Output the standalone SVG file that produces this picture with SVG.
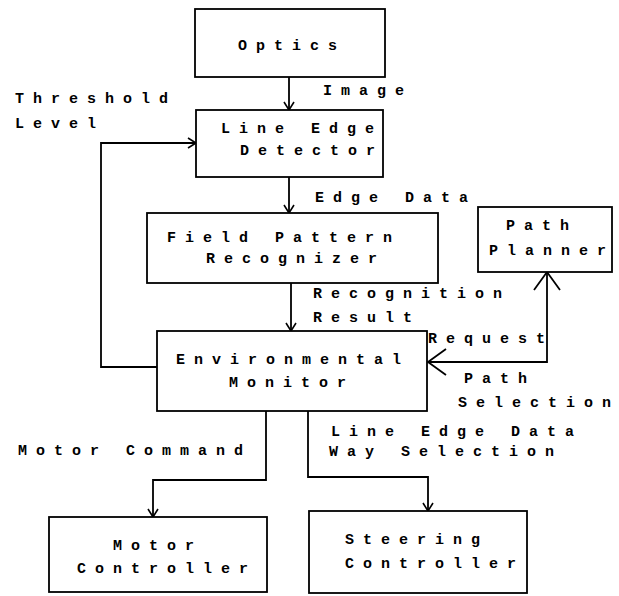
<svg xmlns="http://www.w3.org/2000/svg" width="619" height="596" viewBox="0 0 619 596">
<style>
rect.box{fill:#fff;stroke:#000;stroke-width:1.8}
.c{fill:none;stroke:#000;stroke-width:1.8}
text{font-family:"Liberation Mono","DejaVu Sans Mono",monospace;font-weight:bold;font-size:15px;letter-spacing:9px;fill:#000}
</style>
<defs>
<marker id="ah" markerWidth="12" markerHeight="12" refX="9" refY="6" orient="auto" markerUnits="userSpaceOnUse">
<path d="M1,1 L9,6 L1,11" fill="none" stroke="#000" stroke-width="1.6"/>
</marker>
<marker id="big" markerWidth="24" markerHeight="30" refX="19" refY="15" orient="auto-start-reverse" markerUnits="userSpaceOnUse">
<path d="M1,2 L19,15 L1,28" fill="none" stroke="#000" stroke-width="1.8"/>
</marker>
</defs>
<rect width="619" height="596" fill="#fff"/>
<g id="connectors">
<path class="c" d="M289,77 V110" marker-end="url(#ah)"/>
<path class="c" d="M289,177 V213" marker-end="url(#ah)"/>
<path class="c" d="M291,283 V331" marker-end="url(#ah)"/>
<path class="c" d="M157,367 H101 V143 H196" marker-end="url(#ah)"/>
<path class="c" d="M428,362 H547 V272" marker-start="url(#big)" marker-end="url(#big)"/>
<path class="c" d="M266,411 V480 H153 V517" marker-end="url(#ah)"/>
<path class="c" d="M308,411 V477 H428 V511" marker-end="url(#ah)"/>
<text x="323" y="95">Image</text>
<text x="15" y="103">Threshold</text>
<text x="15" y="128">Level</text>
<text x="315" y="202">Edge Data</text>
<text x="313" y="298">Recognition</text>
<text x="313" y="322">Result</text>
<text x="428" y="343">Request</text>
<text x="464" y="383">Path</text>
<text x="458" y="407">Selection</text>
<text x="331" y="436">Line Edge Data</text>
<text x="329" y="456">Way Selection</text>
<text x="18" y="455">Motor Command</text>
</g>
<g id="optics">
<rect class="box" x="195" y="9" width="190" height="68"/>
<text x="238" y="50">Optics</text>
</g>
<g id="line-edge-detector">
<rect class="box" x="196" y="110" width="187" height="67"/>
<text x="221" y="133">Line Edge</text>
<text x="240" y="155">Detector</text>
</g>
<g id="field-pattern-recognizer">
<rect class="box" x="147" y="213" width="291" height="70"/>
<text x="167" y="242">Field Pattern</text>
<text x="206" y="263">Recognizer</text>
</g>
<g id="path-planner">
<rect class="box" x="478" y="207" width="134" height="65"/>
<text x="506" y="230">Path</text>
<text x="489" y="255">Planner</text>
</g>
<g id="environmental-monitor">
<rect class="box" x="157" y="331" width="270" height="80"/>
<text x="176" y="364">Environmental</text>
<text x="229" y="387">Monitor</text>
</g>
<g id="motor-controller">
<rect class="box" x="49" y="517" width="218" height="75"/>
<text x="113" y="550">Motor</text>
<text x="77" y="573">Controller</text>
</g>
<g id="steering-controller">
<rect class="box" x="309" y="511" width="218" height="82"/>
<text x="345" y="544">Steering</text>
<text x="345" y="568">Controller</text>
</g>
</svg>
